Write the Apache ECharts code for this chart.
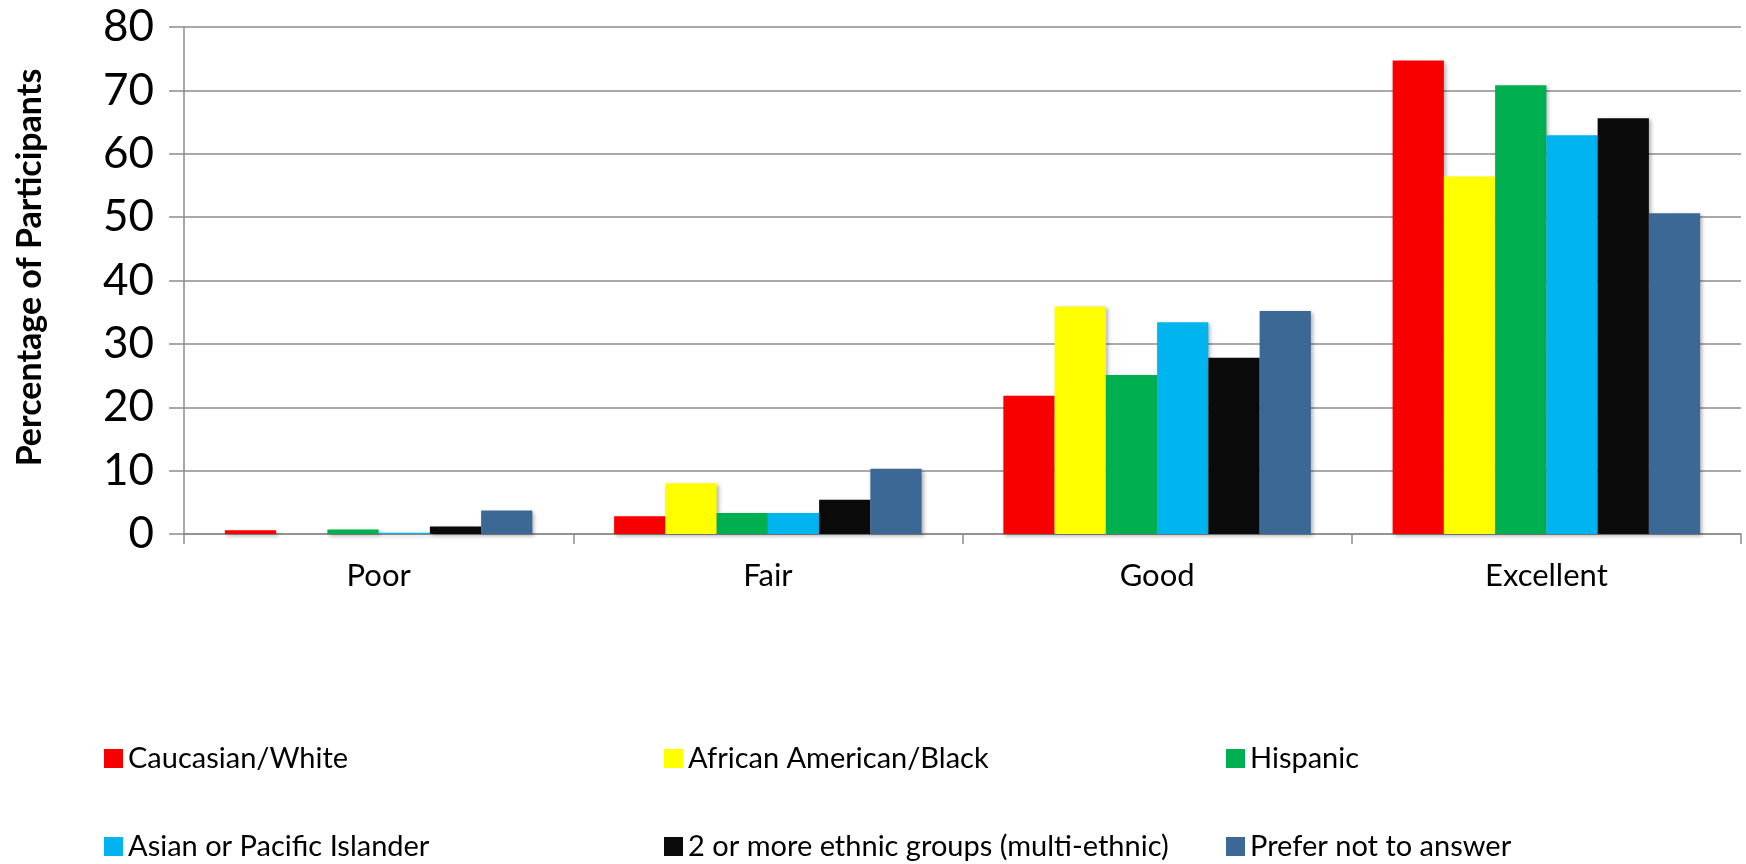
<!DOCTYPE html>
<html>
<head>
<meta charset="utf-8">
<script src="https://cdn.jsdelivr.net/npm/echarts@6/dist/echarts.min.js"></script>
<style>
  html, body { margin: 0; padding: 0; background: #fff; }
  #chart { width: 1746px; height: 864px; }
</style>
</head>
<body>
<div id="chart"></div>
<script>
  // categories and tick values
  var categories = ['Poor', 'Fair', 'Good', 'Excellent'];
  var yTicks = [0, 10, 20, 30, 40, 50, 60, 70, 80];

  // series values
  var caucasian = [0.6, 2.8, 21.8, 74.7];
  var african = [0, 8.0, 35.9, 56.4];
  var hispanic = [0.7, 3.3, 25.1, 70.8];
  var asian = [0.2, 3.3, 33.4, 62.9];
  var multi = [1.2, 5.4, 27.8, 65.6];
  var preferNot = [3.7, 10.3, 35.2, 50.6];

  var seriesNames = ['Caucasian/White', 'African American/Black', 'Hispanic',
    'Asian or Pacific Islander', '2 or more ethnic groups (multi-ethnic)', 'Prefer not to answer'];
  var seriesData = [caucasian, african, hispanic, asian, multi, preferNot];
  var colors = ['#F80000', '#FFFF00', '#00B050', '#00B4F0', '#0A0A0A', '#3B6894'];

  var font = 'Lato';
  var gridColor = '#8c8c8c';

  var chart = echarts.init(document.getElementById('chart'));

  // legend laid out as 3 columns x 2 rows
  var legendLeft = [104, 664, 1226];
  var legendTop = [744, 832];
  var legends = seriesNames.map(function (name, i) {
    return {
      data: [name],
      left: legendLeft[i % 3],
      top: legendTop[Math.floor(i / 3)],
      padding: 0,
      itemWidth: 19,
      itemHeight: 19,
      itemGap: 8,
      icon: 'rect',
      textStyle: { fontFamily: font, fontSize: 29, color: '#000' }
    };
  });

  var option = {
    animation: false,
    color: colors,
    textStyle: { fontFamily: font },
    grid: { left: 184, right: 5, top: 27, bottom: 330 },
    legend: legends,
    xAxis: {
      type: 'category',
      data: categories,
      axisLine: { show: true, lineStyle: { color: gridColor, width: 1.5 } },
      axisTick: { show: true, length: 10, lineStyle: { color: gridColor, width: 1.5 } },
      axisLabel: { fontFamily: font, fontSize: 31, color: '#000', margin: 26 }
    },
    yAxis: {
      type: 'value',
      min: 0,
      max: 80,
      interval: 10,
      name: 'Percentage of Participants',
      nameLocation: 'middle',
      nameGap: 137,
      nameTextStyle: { fontFamily: font, fontSize: 34, fontWeight: 'bold', color: '#000', padding: [0, 0, 0, 26] },
      axisLine: { show: true, lineStyle: { color: gridColor, width: 1.5 } },
      axisTick: { show: true, length: 15, lineStyle: { color: gridColor, width: 1.5 } },
      axisLabel: {
        fontFamily: font, fontSize: 44, color: '#000', margin: 30,
        formatter: function (v) { return yTicks.indexOf(v) >= 0 ? String(v) : ''; }
      },
      splitLine: { show: true, lineStyle: { color: gridColor, width: 1.5 } }
    },
    series: seriesData.map(function (d, i) {
      return {
        name: seriesNames[i],
        type: 'bar',
        data: d,
        barGap: '0%',
        barCategoryGap: '21%',
        itemStyle: {
          color: colors[i],
          shadowColor: 'rgba(0,0,0,0.3)',
          shadowBlur: 4,
          shadowOffsetX: 2,
          shadowOffsetY: 2
        }
      };
    })
  };

  chart.setOption(option);
</script>
</body>
</html>
